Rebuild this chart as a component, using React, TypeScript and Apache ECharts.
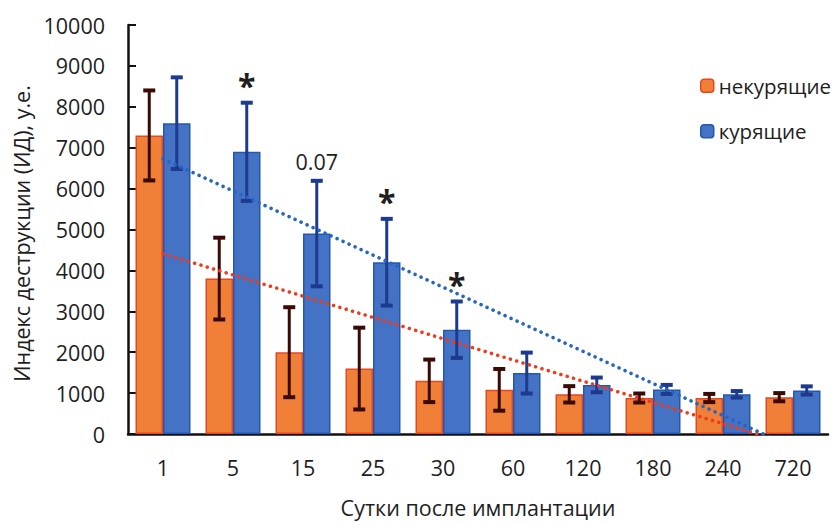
import React, { useEffect, useRef } from "react";
import * as echarts from "echarts";

const categories = ["1", "5", "15", "25", "30", "60", "120", "180", "240", "720"];
const nonSmokers = [7300, 3800, 2000, 1600, 1300, 1080, 970, 880, 880, 900];
const nonSmokersErr = [1100, 1000, 1100, 1000, 520, 510, 200, 110, 100, 100];
const smokers = [7600, 6900, 4900, 4200, 2550, 1490, 1200, 1090, 970, 1065];
const smokersErr = [1120, 1200, 1290, 1060, 690, 500, 180, 110, 80, 100];
const smokerMarks = ["", "*", "0.07", "*", "*", "", "", "", "", ""];
const nonSmokerMarks = ["", "", "", "", "", "", "", "", "", ""];

const FONT = "Open Sans";
const FS = 21.5;
const BAR_W = 27.5;

function linearTrend(values: number[]): number[] {
  const n = values.length;
  const xs = values.map((_, i) => i + 1);
  const mx = xs.reduce((a, b) => a + b, 0) / n;
  const my = values.reduce((a, b) => a + b, 0) / n;
  let sxy = 0;
  let sxx = 0;
  for (let i = 0; i < n; i++) {
    sxy += (xs[i] - mx) * (values[i] - my);
    sxx += (xs[i] - mx) * (xs[i] - mx);
  }
  const slope = sxy / sxx;
  const icpt = my - slope * mx;
  return xs.map((x) => icpt + slope * x);
}

function errorSeries(
  name: string,
  values: number[],
  errs: number[],
  marks: string[],
  offset: number,
  color: string
) {
  return {
    type: "custom",
    name,
    z: 5,
    silent: true,
    data: values.map((v, i) => [i, v, errs[i]]),
    encode: { x: 0, y: 1 },
    renderItem: (params: any, api: any) => {
      const i = api.value(0);
      const v = api.value(1);
      const e = api.value(2);
      const top = api.coord([i, v + e]);
      const bot = api.coord([i, v - e]);
      const x = top[0] + offset;
      const capW = 12;
      const children: any[] = [
        {
          type: "line",
          shape: { x1: x, y1: top[1], x2: x, y2: bot[1] },
          style: { stroke: color, lineWidth: 3 },
        },
        {
          type: "line",
          shape: { x1: x - capW / 2, y1: top[1], x2: x + capW / 2, y2: top[1] },
          style: { stroke: color, lineWidth: 4 },
        },
        {
          type: "line",
          shape: { x1: x - capW / 2, y1: bot[1], x2: x + capW / 2, y2: bot[1] },
          style: { stroke: color, lineWidth: 4 },
        },
      ];
      const m = marks[params.dataIndex];
      if (m) {
        const isStar = m === "*";
        children.push({
          type: "text",
          x: x,
          y: top[1] - (isStar ? 1 : 8),
          style: {
            text: m,
            fill: "#1e1e1e",
            font: isStar ? `bold 32px "${FONT}"` : `${FS}px "${FONT}"`,
            align: "center",
            verticalAlign: "bottom",
          },
        });
      }
      return { type: "group", children };
    },
  };
}

export default function App() {
  const ref = useRef<HTMLDivElement>(null);

  useEffect(() => {
    if (!ref.current) return;
    const chart = echarts.init(ref.current, null, { renderer: "svg" });
    const trendNon = linearTrend(nonSmokers);
    const trendSm = linearTrend(smokers);

    const option: any = {
      animation: false,
      backgroundColor: "#ffffff",
      textStyle: { fontFamily: FONT },
      grid: { left: 128, right: 9, top: 25, bottom: 82, containLabel: false },
      legend: {
        orient: "vertical",
        left: 700,
        top: 74,
        padding: 0,
        itemWidth: 13,
        itemHeight: 13,
        itemGap: 22,
        itemStyle: { borderWidth: 1.5 },
        data: ["некурящие", "курящие"],
        textStyle: { fontFamily: FONT, fontSize: 20.5, color: "#1e1e1e", lineHeight: 23.5 },
      },
      xAxis: {
        type: "category",
        data: categories,
        name: "Сутки после имплантации",
        nameLocation: "middle",
        nameGap: 62,
        nameTextStyle: { fontFamily: FONT, fontSize: FS, color: "#1e1e1e" },
        axisLine: { lineStyle: { color: "#111111", width: 2.5 } },
        axisTick: { inside: true, length: 8, lineStyle: { color: "#111111", width: 2 } },
        axisLabel: { fontFamily: FONT, fontSize: FS, color: "#1e1e1e", margin: 22 },
      },
      yAxis: {
        type: "value",
        min: 0,
        max: 10000,
        interval: 1000,
        name: "Индекс деструкции (ИД), у.е.",
        nameLocation: "middle",
        nameRotate: 90,
        nameGap: 94,
        nameTextStyle: { fontFamily: FONT, fontSize: FS, color: "#1e1e1e", padding: [0, 8, 0, 0] },
        axisLine: { show: true, lineStyle: { color: "#111111", width: 2.5 } },
        axisTick: { show: true, inside: true, length: 8, lineStyle: { color: "#111111", width: 2 } },
        axisLabel: {
          fontFamily: FONT,
          fontSize: FS,
          color: "#1e1e1e",
          margin: 23,
          formatter: (v: number) => String(v),
        },
        splitLine: { show: false },
      },
      series: [
        {
          name: "некурящие",
          type: "bar",
          data: nonSmokers,
          barWidth: BAR_W,
          barGap: "0%",
          z: 2,
          itemStyle: { color: "#f08038", borderColor: "#e8461e", borderWidth: 1.5 },
        },
        {
          name: "курящие",
          type: "bar",
          data: smokers,
          barWidth: BAR_W,
          barGap: "0%",
          z: 2,
          itemStyle: { color: "#4472c4", borderColor: "#2458b0", borderWidth: 1.5 },
        },
        errorSeries("err-non", nonSmokers, nonSmokersErr, nonSmokerMarks, -BAR_W / 2, "#3a0a05"),
        errorSeries("err-sm", smokers, smokersErr, smokerMarks, BAR_W / 2, "#1d3a8f"),
        {
          name: "trend-non",
          type: "line",
          data: trendNon,
          symbol: "none",
          clip: true,
          z: 6,
          silent: true,
          lineStyle: { color: "#f03a1a", width: 3.5, type: [0.1, 6.5], cap: "round" },
        },
        {
          name: "trend-sm",
          type: "line",
          data: trendSm,
          symbol: "none",
          clip: true,
          z: 6,
          silent: true,
          lineStyle: { color: "#2566c2", width: 3.5, type: [0.1, 6.5], cap: "round" },
        },
      ],
    };
    chart.setOption(option);
    return () => chart.dispose();
  }, []);

  return <div ref={ref} style={{ width: 837, height: 523, position: "absolute", left: 0, top: 0 }} />;
}
